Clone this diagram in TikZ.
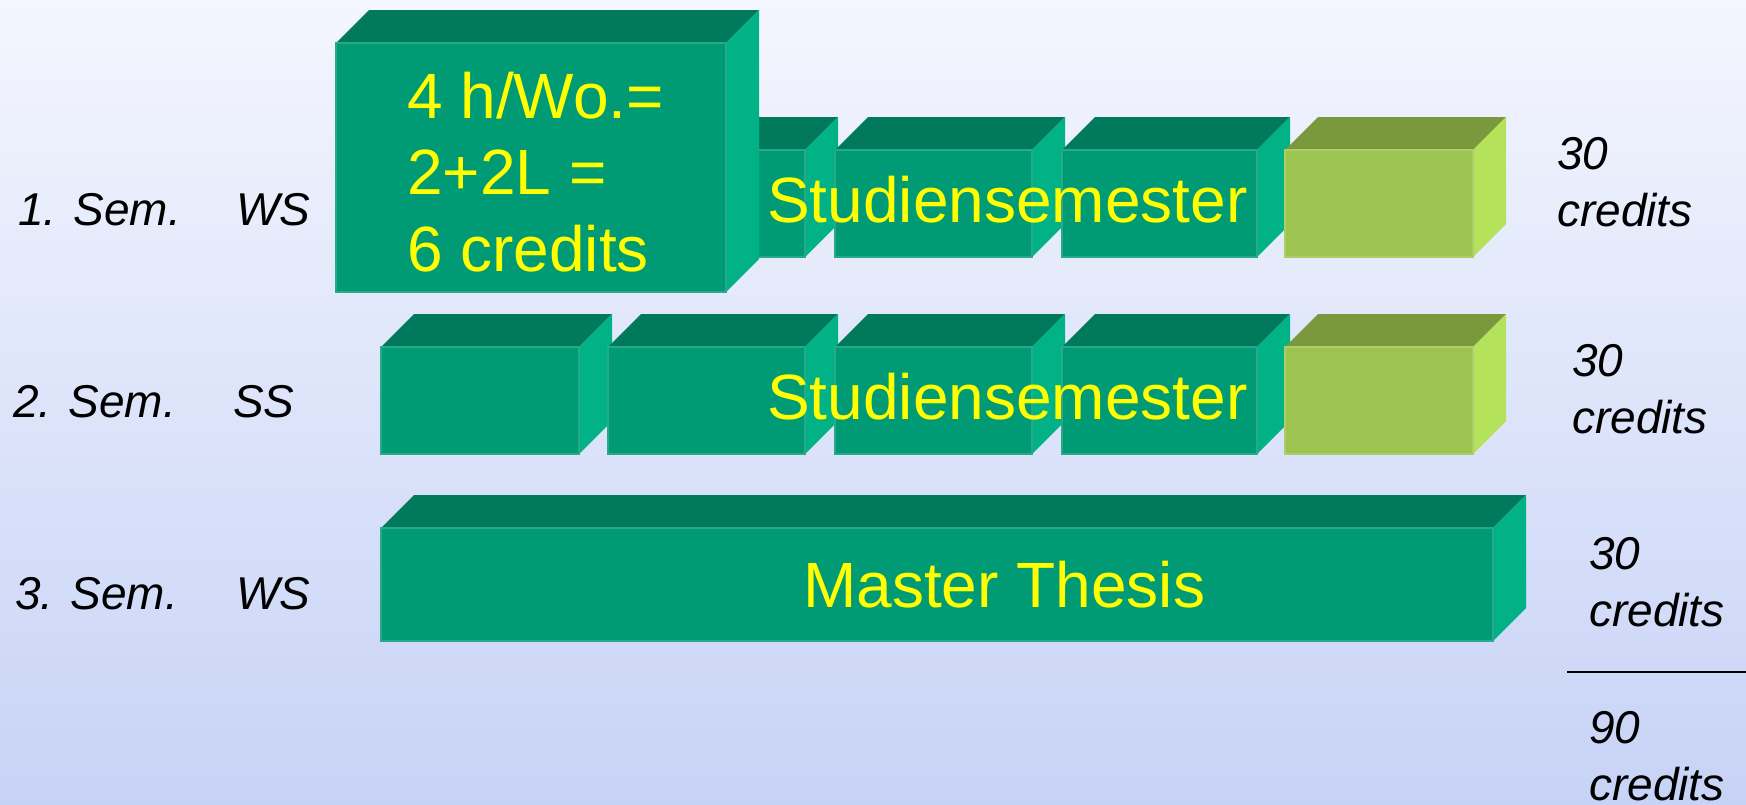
\documentclass[tikz,border=0pt]{standalone}
\usepackage{fontspec}
\setmainfont{Liberation Sans}

\definecolor{bgtop}{RGB}{244,246,254}
\definecolor{bgbot}{RGB}{199,211,246}
\definecolor{tealfront}{RGB}{0,155,116}
\definecolor{tealtop}{RGB}{0,122,90}
\definecolor{tealside}{RGB}{0,178,133}
\definecolor{limefront}{RGB}{157,196,80}
\definecolor{limetop}{RGB}{122,152,60}
\definecolor{limeside}{RGB}{180,226,90}
\definecolor{labelyellow}{RGB}{255,255,0}

% cuboid: front face (x0,y0)-(x1,y1), depth d, colour prefix
\newcommand{\quader}[6]{%
  \fill[#6top] (#1,#2) -- ({#1+#5},{#2-#5}) -- ({#3+#5},{#2-#5}) -- (#3,#2) -- cycle;
  \fill[#6side] (#3,#2) -- ({#3+#5},{#2-#5}) -- ({#3+#5},{#4-#5}) -- (#3,#4) -- cycle;
  \filldraw[fill=#6front, draw=#6front!85!white, line width=1.2pt] (#1,#2) rectangle (#3,#4);
}

\tikzset{
  boxtext/.style={inner sep=0pt, text=labelyellow, font=\fontsize{64}{76}\selectfont},
  sidetext/.style={inner sep=0pt, text=black, font=\fontsize{46}{57}\selectfont\itshape},
}

\begin{document}
\begin{tikzpicture}[x=1pt, y=-1pt]
  \useasboundingbox (0,0) rectangle (1746,804);
  \shade[top color=bgtop, bottom color=bgbot] (0,0) rectangle (1746,804);

  % first semester
  \quader{608}{150}{805}{257}{33}{teal}
  \quader{835}{150}{1032}{257}{33}{teal}
  \quader{1062}{150}{1257}{257}{33}{teal}
  \quader{1285}{150}{1473}{257}{33}{lime}
  \quader{336}{43}{726}{292}{33}{teal}
  \node[boxtext, anchor=base west] (hours) at (407,118) {4 h/Wo.=};
  \node[boxtext, anchor=base west] (split) at (407,194) {2+2L =};
  \node[boxtext, anchor=base west] (six) at (407,271) {6 credits};
  \node[boxtext, anchor=base west] (studA) at (767,222) {Studiensemester};

  % second semester
  \quader{381}{347}{579}{454}{33}{teal}
  \quader{608}{347}{805}{454}{33}{teal}
  \quader{835}{347}{1032}{454}{33}{teal}
  \quader{1062}{347}{1257}{454}{33}{teal}
  \quader{1285}{347}{1473}{454}{33}{lime}
  \node[boxtext, anchor=base west] (studB) at (767,419) {Studiensemester};

  % third semester
  \quader{381}{528}{1493}{641}{33}{teal}
  \node[boxtext, anchor=base west] (thesis) at (803,607) {Master Thesis};

  % semester labels
  \node[sidetext, anchor=base west] (sem1) at (18,225) {1. Sem.};
  \node[sidetext, anchor=base west] (ws1) at (236,225) {WS};
  \node[sidetext, anchor=base west] (sem2) at (13,417) {2. Sem.};
  \node[sidetext, anchor=base west] (ss2) at (233,417) {SS};
  \node[sidetext, anchor=base west] (sem3) at (15,609) {3. Sem.};
  \node[sidetext, anchor=base west] (ws3) at (236,609) {WS};

  % credit labels (base anchor sits on the last line)
  \node[sidetext, anchor=base west, align=left] (cr1) at (1557,226) {30\\credits};
  \node[sidetext, anchor=base west, align=left] (cr2) at (1572,433) {30\\credits};
  \node[sidetext, anchor=base west, align=left] (cr3) at (1589,626) {30\\credits};
  \coordinate (sumL) at (1567,672);
  \coordinate (sumR) at (1746,672);
  \draw[line width=1.6pt] (sumL) -- (sumR);
  \node[sidetext, anchor=base west, align=left] (total) at (1589,800) {90\\credits};
\end{tikzpicture}
\end{document}
